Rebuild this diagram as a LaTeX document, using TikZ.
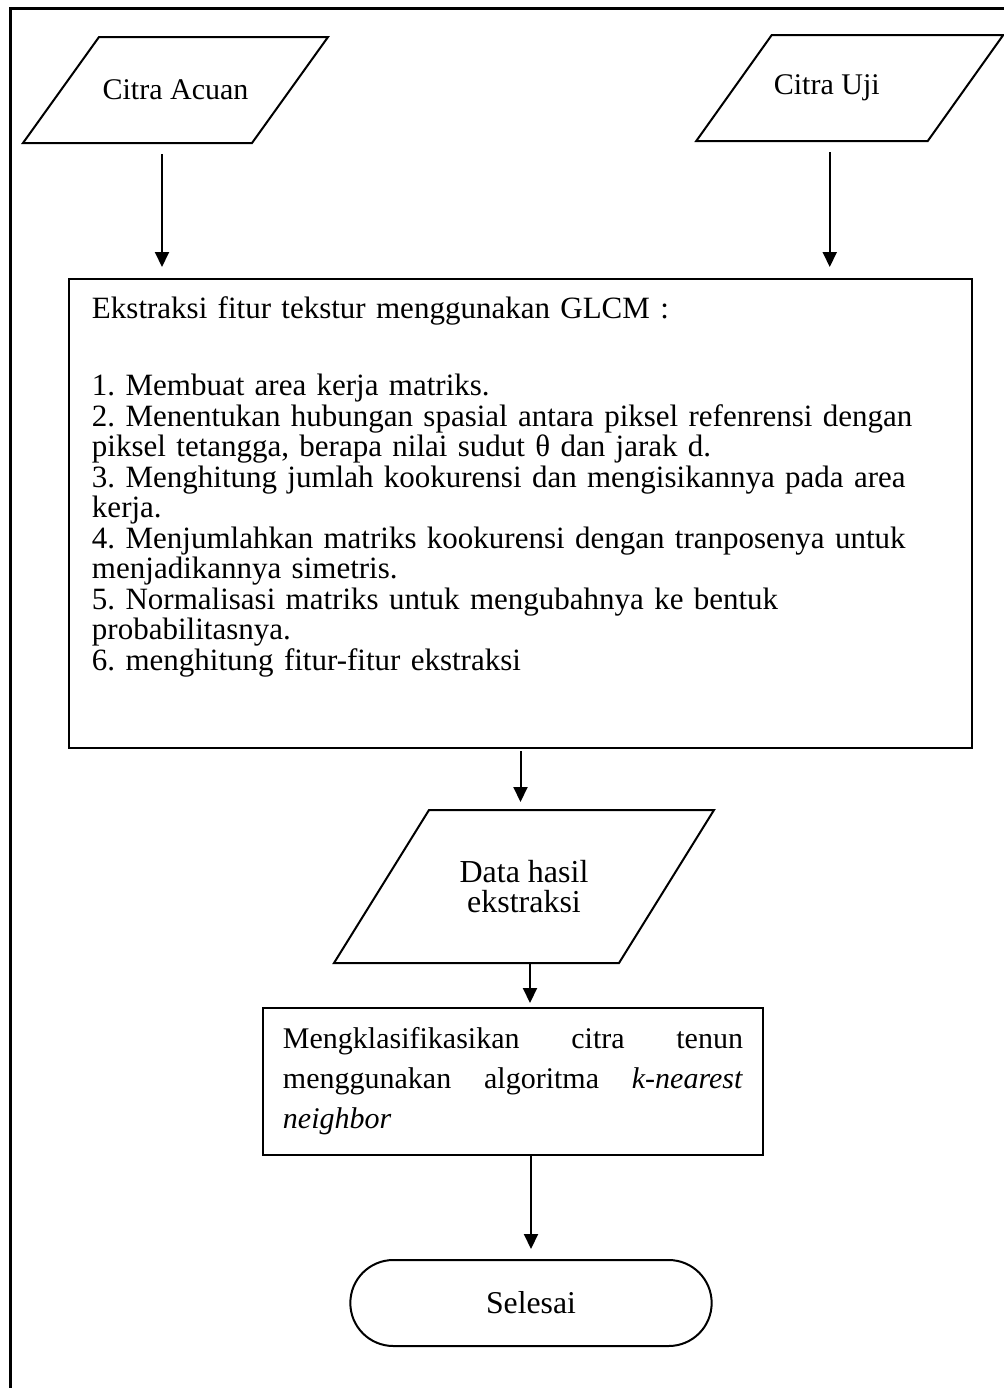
\documentclass[tikz,border=0pt]{standalone}
\usepackage{fontspec}
\setmainfont{Liberation Serif}
\frenchspacing
\usetikzlibrary{shapes.misc,arrows.meta}
\begin{document}
\begin{tikzpicture}[x=0.4pt, y=-0.4pt, >={Triangle[length=6pt,width=5.6pt]}, line width=0.8pt,
    font=\fontsize{12}{12.2}\selectfont,
    io/.style={rectangle, inner sep=0pt, minimum height=#1},
    box/.style={draw, rectangle, inner sep=0pt}]
        \useasboundingbox (0,0) rectangle (1003,1388);
        % bingkai
        \draw [line width=1.2pt](10,1400)--(10,8)--(1010,8);
        % masukan
        \node [io=41.6pt, minimum width=90.8pt] (acuan) at (175.5,90) {Citra Acuan};
        \node [io=41.6pt, minimum width=91.8pt] (uji) at (849.75,88) {Citra Uji\hspace*{18.4pt}};
        % proses GLCM
        \node [box, minimum width=361.2pt, minimum height=187.6pt] (glcm) at (520.5,513.5) {};
        \node [anchor=north west, text width=345pt, align=left, inner sep=0pt,
            font=\fontsize{12.4}{12.2}\selectfont] (langkah) at (91,296)
        {Ekstraksi fitur tekstur menggunakan GLCM :\\[18.6pt]
        1. Membuat area kerja matriks.\\
        2. Menentukan hubungan spasial antara piksel refenrensi dengan\\
        piksel tetangga, berapa nilai sudut θ dan jarak d.\\
        3. Menghitung jumlah kookurensi dan mengisikannya pada area\\
        kerja.\\
        4. Menjumlahkan matriks kookurensi dengan tranposenya untuk\\
        menjadikannya simetris.\\
        5. Normalisasi matriks untuk mengubahnya ke bentuk\\
        probabilitasnya.\\
        6. menghitung fitur-fitur ekstraksi};
        \node [io=60.4pt, minimum width=113.2pt, align=center,
            font=\fontsize{12.8}{11.8}\selectfont] (hasil) at (524,886.5) {Data hasil\\ekstraksi};
        \node [box, text width=184pt, inner xsep=8pt, minimum height=58.8pt, align=left,
            font=\fontsize{12}{16}\selectfont] (klas) at (513,1081.5)
        {Mengklasifikasikan\hfill citra\hfill tenun\\
        menggunakan\hfill algoritma\hfill \textit{k-nearest}\\
        \textit{neighbor}};
        \node [draw, rounded rectangle, minimum width=151.2pt, minimum height=34.4pt,
            font=\fontsize{12.7}{12.7}\selectfont] (selesai) at (531,1303) {Selesai};
        % jajaran genjang
        \foreach \n/\s in {acuan/15.2pt, uji/15.1pt, hasil/19pt}
        {
            \draw ([xshift=\s]\n.north west)--([xshift=\s]\n.north east)
                --([xshift=-\s]\n.south east)--([xshift=-\s]\n.south west)--cycle;
        }
        % panah
        \coordinate (p1) at ([xshift=-5.4pt]acuan.south);
        \coordinate (p2) at ([xshift=-8pt]uji.south);
        \coordinate (p4) at ([xshift=2.4pt]hasil.south);
        \draw [->, shorten <=4.4pt, shorten >=4.4pt](p1)--(p1 |- glcm.north);
        \draw [->, shorten <=4.4pt, shorten >=4.4pt](p2)--(p2 |- glcm.north);
        \draw [->, shorten <=0.8pt, shorten >=3.2pt](glcm.south)--(glcm.south |- hasil.north);
        \draw [->, shorten >=1.6pt](p4)--(p4 |- klas.north);
        \draw [->, shorten >=4pt](selesai.north |- klas.south)--(selesai.north);
\end{tikzpicture}
\end{document}
